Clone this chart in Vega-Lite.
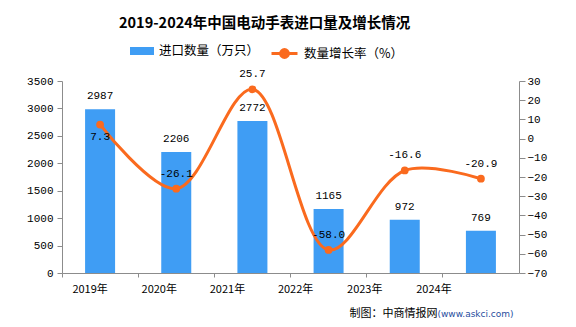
{
  "$schema": "https://vega.github.io/schema/vega-lite/v6.json",
  "width": 457,
  "height": 192,
  "autosize": {"type": "none"},
  "padding": {"left": 62, "top": 81, "right": 57, "bottom": 54},
  "background": "white",
  "title": {
    "text": "2019-2024年中国电动手表进口量及增长情况",
    "anchor": "start",
    "frame": "group",
    "dx": 57,
    "offset": 8,
    "font": "Noto Sans CJK SC",
    "fontSize": 14.5,
    "fontWeight": "bold",
    "color": "#000000"
  },
  "config": {
    "view": {"stroke": null},
    "font": "Noto Sans CJK SC",
    "axis": {
      "domainColor": "#8c8c8c",
      "tickColor": "#8c8c8c",
      "grid": false,
      "labelColor": "#000000",
      "labelFont": "Liberation Mono",
      "labelFontSize": 11
    }
  },
  "data": {
    "values": [
      {"year": "2019年", "qty": 2987, "rate": 7.3, "rateLabel": "7.3"},
      {"year": "2020年", "qty": 2206, "rate": -26.1, "rateLabel": "-26.1"},
      {"year": "2021年", "qty": 2772, "rate": 25.7, "rateLabel": "25.7"},
      {"year": "2022年", "qty": 1165, "rate": -58.0, "rateLabel": "-58.0"},
      {"year": "2023年", "qty": 972, "rate": -16.6, "rateLabel": "-16.6"},
      {"year": "2024年", "qty": 769, "rate": -20.9, "rateLabel": "-20.9"}
    ]
  },
  "encoding": {
    "x": {
      "field": "year",
      "type": "nominal",
      "sort": null,
      "scale": {"paddingInner": 0, "paddingOuter": 0},
      "axis": {
        "title": "制图：中商情报网",
        "titleFont": "Noto Sans CJK SC",
        "titleFontSize": 11,
        "titleFontWeight": "normal",
        "titleColor": "#000000",
        "titleAlign": "right",
        "titleAnchor": null,
        "titleBaseline": "alphabetic",
        "titleX": 375,
        "titleY": 43,
        "labelAngle": 0,
        "labelFont": "Noto Sans CJK SC",
        "labelFontSize": 11,
        "labelPadding": 6,
        "bandPosition": 0,
        "tickSize": 4,
        "labelOffset": {
          "condition": [
            {"test": "datum.value == '2019年'", "value": -10},
            {"test": "datum.value == '2020年'", "value": -17},
            {"test": "datum.value == '2021年'", "value": -25},
            {"test": "datum.value == '2022年'", "value": -33},
            {"test": "datum.value == '2023年'", "value": -40}
          ],
          "value": -47
        }
      }
    }
  },
  "layer": [
    {
      "encoding": {
        "y": {
          "field": "qty",
          "type": "quantitative",
          "scale": {"domain": [0, 3500]},
          "axis": {
            "title": null,
            "values": [0, 500, 1000, 1500, 2000, 2500, 3000, 3500],
            "format": "d",
            "tickSize": 5,
            "labelPadding": 4
          }
        }
      },
      "layer": [
        {
          "mark": {"type": "bar", "width": 30},
          "encoding": {
            "fill": {
              "datum": "进口数量（万只）",
              "scale": {"range": ["#3F9DF4"]},
              "legend": {
                "orient": "none",
                "legendX": 68,
                "legendY": -42,
                "title": null,
                "padding": 0,
                "symbolType": "M-1,-0.333H1V0.333H-1Z",
                "symbolSize": 576,
                "symbolStrokeWidth": 0,
                "labelFont": "Noto Sans CJK SC",
                "labelFontSize": 12.5,
                "labelColor": "#000000",
                "labelOffset": 5
              }
            }
          }
        },
        {
          "mark": {"type": "text", "baseline": "alphabetic", "dy": -10, "font": "Liberation Mono", "fontSize": 11, "color": "#000000"},
          "encoding": {
            "text": {"field": "qty", "type": "quantitative", "format": "d"}
          }
        }
      ]
    },
    {
      "encoding": {
        "y": {
          "field": "rate",
          "type": "quantitative",
          "scale": {"domain": [-70, 30]},
          "axis": {
            "orient": "right",
            "values": [-70, -60, -50, -40, -30, -20, -10, 0, 10, 20, 30],
            "format": "d",
            "tickSize": 6,
            "labelPadding": 2,
            "title": "(www.askci.com)",
            "titleAngle": 0,
            "titleFont": "DejaVu Sans",
            "titleFontSize": 9,
            "titleFontWeight": "normal",
            "titleColor": "#1F4E9E",
            "titleAlign": "left",
            "titleAnchor": null,
            "titleBaseline": "alphabetic",
            "titleX": -82,
            "titleY": 235
          }
        }
      },
      "layer": [
        {
          "mark": {"type": "line", "interpolate": "catmull-rom", "strokeWidth": 3},
          "encoding": {
            "stroke": {
              "datum": "数量增长率（%）",
              "scale": {"range": ["#FA6A1E"]},
              "legend": {
                "orient": "none",
                "legendX": 208,
                "legendY": -42,
                "title": null,
                "padding": 0,
                "symbolType": "M-1,0H1M0.3,0A0.3,0.3,0,1,1,-0.3,0A0.3,0.3,0,1,1,0.3,0Z",
                "symbolSize": 676,
                "symbolStrokeWidth": 3,
                "symbolFillColor": "#FA6A1E",
                "labelFont": "Noto Sans CJK SC",
                "labelFontSize": 12.5,
                "labelColor": "#000000",
                "labelOffset": 5
              }
            }
          }
        },
        {
          "mark": {"type": "point", "filled": true, "size": 60, "color": "#FA6A1E", "opacity": 1}
        },
        {
          "transform": [{"filter": "datum.year != '2019年'"}],
          "mark": {"type": "text", "baseline": "alphabetic", "dy": -12, "font": "Liberation Mono", "fontSize": 11, "color": "#000000"},
          "encoding": {
            "text": {"field": "rateLabel", "type": "nominal"}
          }
        },
        {
          "transform": [{"filter": "datum.year == '2019年'"}],
          "mark": {"type": "text", "baseline": "alphabetic", "dy": 15, "font": "Liberation Mono", "fontSize": 11, "color": "#000000"},
          "encoding": {
            "text": {"field": "rateLabel", "type": "nominal"}
          }
        }
      ]
    }
  ],
  "resolve": {"scale": {"y": "independent"}}
}
